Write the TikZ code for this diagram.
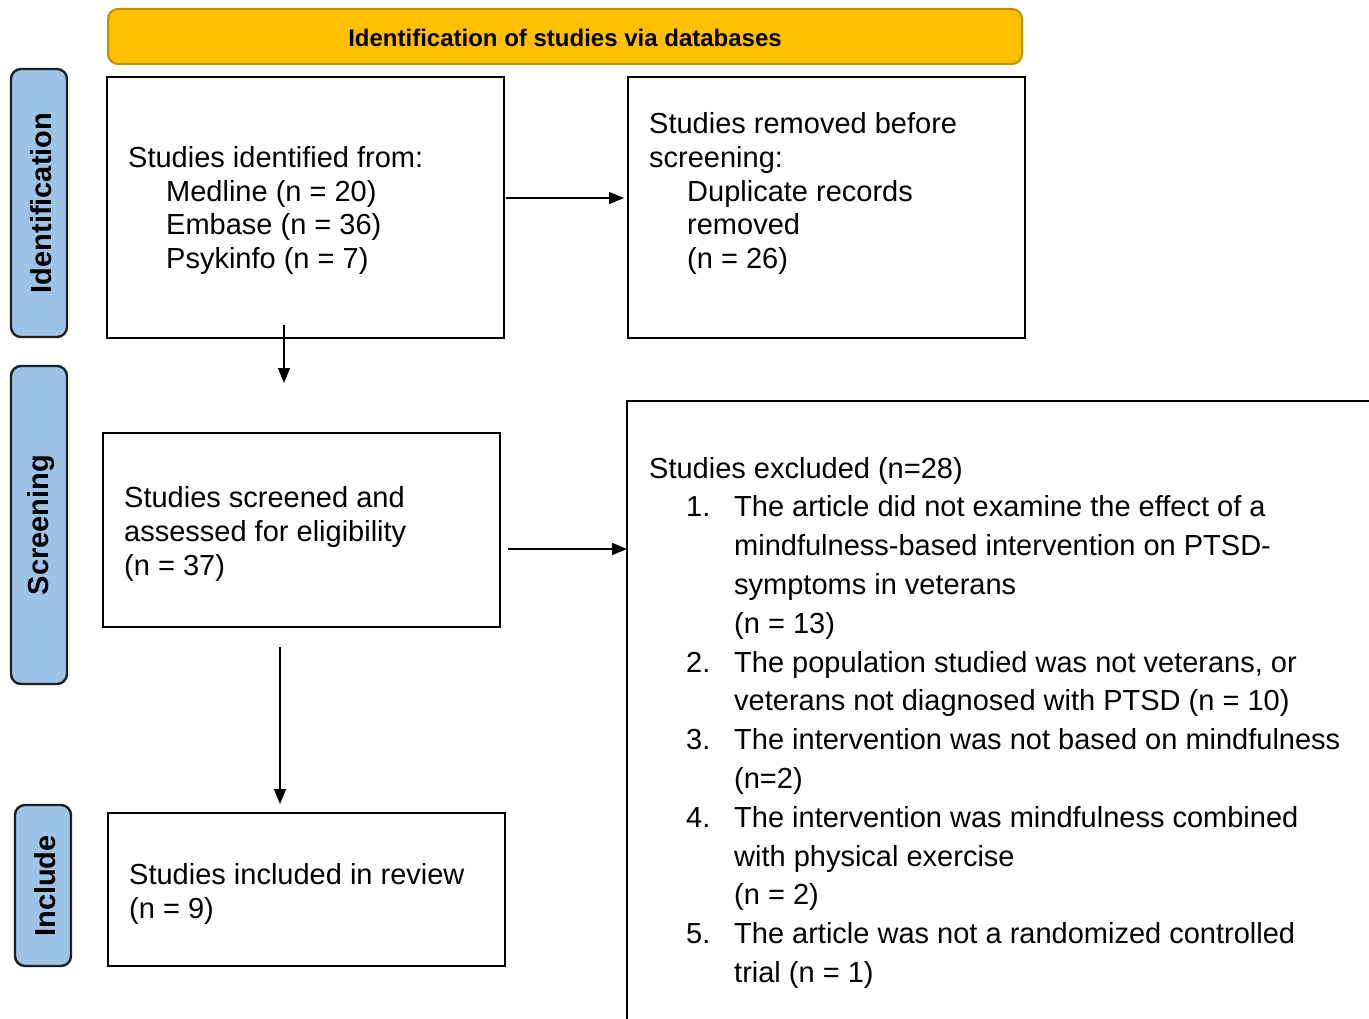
\documentclass[tikz,border=0pt]{standalone}
\usepackage{fontspec}
\setmainfont{Liberation Sans}
\usetikzlibrary{arrows.meta}
\definecolor{bannerfill}{HTML}{FFC000}
\definecolor{bannerline}{HTML}{BF9000}
\definecolor{sidefill}{HTML}{9DC3E6}
\definecolor{sideline}{HTML}{1F1F1F}
\tikzset{
  box/.style={draw=black, line width=2.4pt, inner sep=0pt, outer sep=0pt},
  banner/.style={draw=bannerline, fill=bannerfill, line width=2pt, rounded corners=10pt, inner sep=0pt},
  sidebox/.style={draw=sideline, fill=sidefill, line width=2.4pt, rounded corners=10pt, inner sep=0pt},
  sidetext/.style={rotate=90, font=\fontsize{29}{34}\selectfont\bfseries, inner sep=0pt},
  txt/.style={anchor=base west, inner sep=0pt, font=\fontsize{29}{34}\selectfont},
  arr/.style={line width=1.3pt, -{Triangle[length=15pt,width=12pt]}}
}
\begin{document}
\begin{tikzpicture}[x=1pt,y=-1pt]
\useasboundingbox (0,0) rectangle (1369,1019);
\clip (0,0) rectangle (1369,1019);
\fill[white] (0,0) rectangle (1369,1019);

% banner
\node[banner, minimum width=914pt, minimum height=55pt] (ban) at (565,36.5) {};
\node[inner sep=0pt, font=\fontsize{24}{28}\selectfont\bfseries] (bantxt) at (565,38) {Identification of studies via databases};

% side labels
\node[sidebox, minimum width=56pt, minimum height=268pt] (s1) at (39,203) {};
\node[sidetext] (s1t) at (41,203) {Identification};
\node[sidebox, minimum width=56pt, minimum height=318pt] (s2) at (39,525) {};
\node[sidetext] (s2t) at (41,525) {Screening};
\node[sidebox, minimum width=56pt, minimum height=161pt] (s3) at (43,885.5) {};
\node[sidetext] (s3t) at (45,886) {Include};

% boxes
\node[box, minimum width=397pt, minimum height=261pt] (b1) at (305.5,207.5) {};
\node[box, minimum width=397pt, minimum height=261pt] (b2) at (826.5,207.5) {};
\node[box, minimum width=397pt, minimum height=194pt] (b3) at (301.5,530) {};
\node[box, minimum width=397pt, minimum height=153pt] (b4) at (306.5,889.5) {};
\node[box, minimum width=793pt, minimum height=659pt] (b5) at (1023.5,730.5) {};

% box 1 text
\node[txt] (b1l1) at (128,168) {Studies identified from:};
\node[txt] (b1l2) at (166,201.5) {Medline (n = 20)};
\node[txt] (b1l3) at (166,235) {Embase (n = 36)};
\node[txt] (b1l4) at (166,268.5) {Psykinfo (n = 7)};

% box 2 text
\node[txt] (b2l1) at (649,134) {Studies removed before};
\node[txt] (b2l2) at (649,168) {screening:};
\node[txt] (b2l3) at (687,201.5) {Duplicate records};
\node[txt] (b2l4) at (687,235) {removed};
\node[txt] (b2l5) at (687,268.5) {(n = 26)};

% box 3 text
\node[txt] (b3l1) at (124,507) {Studies screened and};
\node[txt] (b3l2) at (124,541) {assessed for eligibility};
\node[txt] (b3l3) at (124,575) {(n = 37)};

% box 4 text
\node[txt] (b4l1) at (129,884) {Studies included in review};
\node[txt] (b4l2) at (129,918) {(n = 9)};

% box 5 text
\node[txt] (b5h) at (649,478) {Studies excluded (n=28)};
\node[txt] (n1) at (686,516.8) {1.};
\node[txt] (n2) at (686,672) {2.};
\node[txt] (n3) at (686,749.6) {3.};
\node[txt] (n4) at (686,827.2) {4.};
\node[txt] (n5) at (686,943.6) {5.};
\node[txt] (e1) at (734,516.8) {The article did not examine the effect of a};
\node[txt] (e2) at (734,555.6) {mindfulness-based intervention on PTSD-};
\node[txt] (e3) at (734,594.4) {symptoms in veterans};
\node[txt] (e4) at (734,633.2) {(n = 13)};
\node[txt] (e5) at (734,672) {The population studied was not veterans, or};
\node[txt] (e6) at (734,710.8) {veterans not diagnosed with PTSD (n = 10)};
\node[txt] (e7) at (734,749.6) {The intervention was not based on mindfulness};
\node[txt] (e8) at (734,788.4) {(n=2)};
\node[txt] (e9) at (734,827.2) {The intervention was mindfulness combined};
\node[txt] (e10) at (734,866) {with physical exercise};
\node[txt] (e11) at (734,904.8) {(n = 2)};
\node[txt] (e12) at (734,943.6) {The article was not a randomized controlled};
\node[txt] (e13) at (734,982.4) {trial (n = 1)};

% connectors
\coordinate (a12s) at (506,198);
\coordinate (a12e) at (624,198);
\coordinate (a13s) at (284,325);
\coordinate (a13e) at (284,383);
\coordinate (a35s) at (508,549);
\coordinate (a35e) at (627,549);
\coordinate (a34s) at (280,647);
\coordinate (a34e) at (280,804);
\draw[arr] (a12s) -- (a12e);
\draw[arr] (a13s) -- (a13e);
\draw[arr] (a35s) -- (a35e);
\draw[arr] (a34s) -- (a34e);
\end{tikzpicture}
\end{document}
